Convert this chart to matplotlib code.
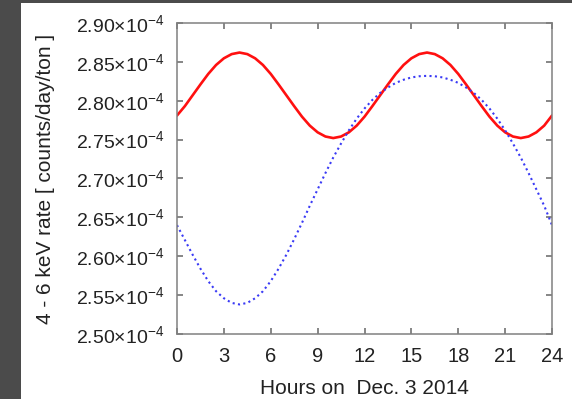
import numpy as np
import matplotlib
matplotlib.use("Agg")
import matplotlib.pyplot as plt
from matplotlib.patches import Rectangle

plt.rcParams['font.family'] = ['Liberation Sans', 'DejaVu Sans']
plt.rcParams['mathtext.fontset'] = 'custom'
plt.rcParams['mathtext.rm'] = 'Liberation Sans'
plt.rcParams['mathtext.it'] = 'Liberation Sans:italic'

# Часы (шаг полчаса)
hours = np.arange(0, 24.5, 0.5)

# Значения в единицах 1e-4 counts/day/ton
red_rate = [2.781, 2.793, 2.807, 2.821, 2.8345, 2.846, 2.8546, 2.860, 2.862,
            2.860, 2.8546, 2.846, 2.8345, 2.821, 2.807, 2.793, 2.7795, 2.768,
            2.7594, 2.754, 2.752, 2.754, 2.7594, 2.768, 2.7795, 2.793, 2.807,
            2.821, 2.8345, 2.846, 2.8546, 2.860, 2.862, 2.860, 2.8546, 2.846,
            2.8345, 2.821, 2.807, 2.793, 2.7795, 2.768, 2.7594, 2.754, 2.752,
            2.754, 2.7594, 2.768, 2.781]

blue_rate = [2.640, 2.621, 2.602, 2.584, 2.568, 2.555, 2.546, 2.540, 2.538,
             2.540, 2.546, 2.555, 2.568, 2.584, 2.602, 2.622, 2.643, 2.665,
             2.686, 2.707, 2.727, 2.745, 2.762, 2.777, 2.790, 2.801, 2.810,
             2.817, 2.823, 2.827, 2.830, 2.8315, 2.832, 2.8315, 2.830, 2.827,
             2.823, 2.817, 2.810, 2.801, 2.790, 2.777, 2.762, 2.745, 2.727,
             2.707, 2.686, 2.665, 2.640]

x_ticks = [0, 3, 6, 9, 12, 15, 18, 21, 24]
y_ticks = [2.50, 2.55, 2.60, 2.65, 2.70, 2.75, 2.80, 2.85, 2.90]
y_tick_labels = [r'$\mathregular{%.2f{\times}10^{-4}}$' % v for v in y_ticks]

fig = plt.figure(figsize=(5.72, 3.99), dpi=100)
fig.patch.set_facecolor('white')

# Тёмные полосы по краям (фон слайда)
fig.patches.append(Rectangle((0, 0), 21 / 572, 1, transform=fig.transFigure,
                             facecolor='#4b4b4b', edgecolor='none', zorder=0))
fig.patches.append(Rectangle((0, 1 - 3 / 399), 1, 3 / 399, transform=fig.transFigure,
                             facecolor='#4b4b4b', edgecolor='none', zorder=0))

ax = fig.add_axes([177 / 572, 65 / 399, 375 / 572, 311 / 399])

ax.plot(hours, np.array(red_rate) * 1e-4, color='#ff1010', linewidth=1.9,
        solid_capstyle='round')
ax.plot(hours, np.array(blue_rate) * 1e-4, color='#3a3af5', linewidth=1.5,
        linestyle=(0, (1, 1.6)))

ax.set_xlim(0, 24)
ax.set_ylim(2.50e-4, 2.90e-4)
ax.set_xticks(x_ticks)
ax.set_xticklabels([str(h) for h in x_ticks], fontsize=14.5, color='#222222')
ax.set_yticks([v * 1e-4 for v in y_ticks])
ax.set_yticklabels(y_tick_labels, fontsize=14, color='#222222')

ax.tick_params(direction='in', length=4, width=1.1, color='#666666',
               top=True, right=True, pad=9)

for sp in ax.spines.values():
    sp.set_color('#808080')
    sp.set_linewidth(1.1)

ax.set_xlabel('Hours on  Dec. 3 2014', fontsize=15, color='#222222', labelpad=10)
ax.set_ylabel('4 - 6 keV rate [ counts/day/ton ]', fontsize=15, color='#222222',
              labelpad=15)

fig.savefig('out.png', dpi=100, facecolor=fig.get_facecolor())
